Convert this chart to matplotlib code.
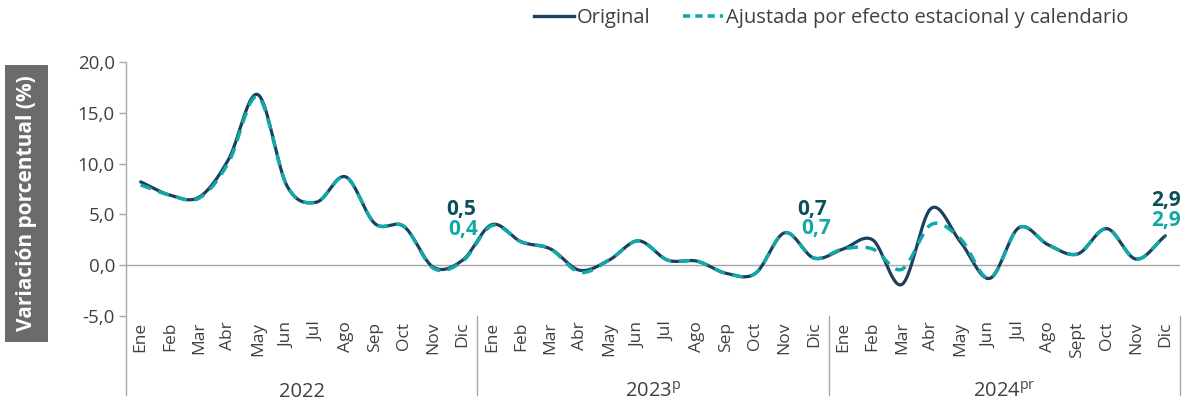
import numpy as np
import matplotlib
matplotlib.use("Agg")
import matplotlib.pyplot as plt
from matplotlib.patches import Rectangle
from matplotlib.lines import Line2D

plt.rcParams['font.family'] = ['Open Sans', 'DejaVu Sans']

months = ["Ene", "Feb", "Mar", "Abr", "May", "Jun", "Jul", "Ago", "Sep", "Oct", "Nov", "Dic",
          "Ene", "Feb", "Mar", "Abr", "May", "Jun", "Jul", "Ago", "Sep", "Oct", "Nov", "Dic",
          "Ene", "Feb", "Mar", "Abr", "May", "Jun", "Jul", "Ago", "Sept", "Oct", "Nov", "Dic"]
years = ["2022", "2023$^{\\mathregular{p}}$", "2024$^{\\mathregular{pr}}$"]

original = [8.2, 6.9, 6.7, 10.4, 16.8, 7.8, 6.2, 8.7, 4.1, 3.8, -0.2, 0.5,
            4.0, 2.3, 1.6, -0.5, 0.5, 2.4, 0.5, 0.4, -0.8, -0.8, 3.2, 0.7,
            1.6, 2.5, -1.9, 5.6, 2.3, -1.3, 3.7, 2.0, 1.1, 3.6, 0.6, 2.9]
ajustada = [7.9, 6.9, 6.6, 10.1, 16.6, 7.8, 6.2, 8.7, 4.1, 3.8, -0.3, 0.4,
            3.9, 2.3, 1.6, -0.7, 0.5, 2.4, 0.5, 0.4, -0.8, -0.8, 3.2, 0.7,
            1.6, 1.6, -0.4, 4.0, 2.6, -1.3, 3.7, 2.0, 1.1, 3.6, 0.6, 2.9]

label_idx = [11, 23, 35]

C_ORIG = "#1b3f5e"
C_ADJ = "#12a8a8"
C_LBL_DARK = "#0b4f58"
C_TXT = "#404040"
C_GRID = "#a6a6a6"


def catmull_rom(y, n=20):
    y = np.asarray(y, dtype=float)
    x = np.arange(len(y), dtype=float)
    p = np.concatenate([[2 * y[0] - y[1]], y, [2 * y[-1] - y[-2]]])
    xs, ys = [], []
    t = np.linspace(0, 1, n, endpoint=False)
    for i in range(len(y) - 1):
        p0, p1, p2, p3 = p[i], p[i + 1], p[i + 2], p[i + 3]
        seg = 0.5 * ((2 * p1) + (-p0 + p2) * t + (2 * p0 - 5 * p1 + 4 * p2 - p3) * t ** 2
                     + (-p0 + 3 * p1 - 3 * p2 + p3) * t ** 3)
        xs.append(x[i] + t)
        ys.append(seg)
    xs.append([x[-1]])
    ys.append([y[-1]])
    return np.concatenate(xs), np.concatenate(ys)


fig = plt.figure(figsize=(11.88, 4.0), dpi=100)
ax = fig.add_axes([126 / 1188, 1 - 316 / 400, (1180 - 126) / 1188, (316 - 62) / 400])

xo, yo = catmull_rom(original)
xa, ya = catmull_rom(ajustada)
ax.plot(xo, yo, color=C_ORIG, lw=2.3, solid_capstyle='round', zorder=3)
ax.plot(xa, ya, color=C_ADJ, lw=2.5, dashes=(3.2, 2.2), zorder=4)

ax.axhline(0, color=C_GRID, lw=1.0, zorder=1)

ax.set_xlim(-0.5, len(months) - 0.5)
ax.set_ylim(-5, 20)
ax.set_yticks([-5, 0, 5, 10, 15, 20])
ax.set_yticklabels([f"{v:.1f}".replace(".", ",") for v in [-5, 0, 5, 10, 15, 20]],
                   fontsize=13.5, color=C_TXT)
ax.tick_params(axis='y', length=5, width=1, color=C_GRID, pad=3)
ax.set_xticks(range(len(months)))
ax.set_xticklabels(months, rotation=90, fontsize=12.5, color=C_TXT, va='top')
ax.tick_params(axis='x', length=0, pad=4)

for s in ['top', 'right', 'bottom', 'left']:
    ax.spines[s].set_visible(False)

trans = ax.get_xaxis_transform()
y_bot = -0.311
ax.add_line(Line2D([-0.5, -0.5], [1.0, y_bot], transform=trans, color=C_GRID, lw=1.0, clip_on=False))
for xs in [11.5, 23.5, 35.5]:
    ax.add_line(Line2D([xs, xs], [0.0, y_bot], transform=trans, color=C_GRID, lw=1.0, clip_on=False))

for k, yl in enumerate(years):
    ax.text(5.5 + 12 * k, -0.298, yl, transform=trans, ha='center', va='center',
            fontsize=14.5, color=C_TXT)

# data labels
offs_dark = [(-2, 51), (-2, 49), (1, 35)]
offs_adj = [(0, 32), (2, 30), (1, 15)]
for i, od, oa in zip(label_idx, offs_dark, offs_adj):
    ax.annotate(f"{original[i]:.1f}".replace(".", ","), (i, original[i]), xytext=od,
                textcoords='offset pixels', ha='center', va='center', fontsize=15,
                fontweight='bold', color=C_LBL_DARK, zorder=5)
    ax.annotate(f"{ajustada[i]:.1f}".replace(".", ","), (i, ajustada[i]), xytext=oa,
                textcoords='offset pixels', ha='center', va='center', fontsize=15,
                fontweight='bold', color=C_ADJ, zorder=5)

# y label box
fig.patches.append(Rectangle((5 / 1188, 1 - 342 / 400), 43 / 1188, (342 - 65) / 400,
                             transform=fig.transFigure, facecolor="#6b6b6b", edgecolor='none'))
fig.text(27 / 1188, 1 - 203 / 400, "Variación porcentual (%)", rotation=90, ha='center',
         va='center', color='white', fontsize=15, fontweight='bold')

# legend
handles = [Line2D([], [], color=C_ORIG, lw=2.4),
           Line2D([], [], color=C_ADJ, lw=2.6, dashes=(2.0, 1.4))]
fig.legend(handles, ["Original", "Ajustada por efecto estacional y calendario"],
           loc='center', bbox_to_anchor=(831 / 1188, 1 - 18 / 400), ncol=2, frameon=False,
           fontsize=14.5, labelcolor=C_TXT, handlelength=2.0, handletextpad=0.15,
           columnspacing=1.6)

fig.savefig("out.png", dpi=100)
